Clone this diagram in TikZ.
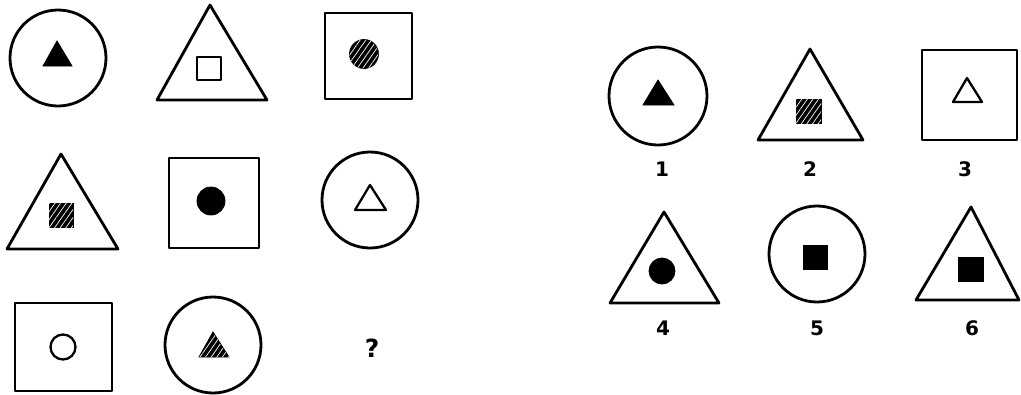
\documentclass[tikz,border=0pt]{standalone}
\usepackage{fontspec}
\setmainfont{DejaVu Sans}
\usetikzlibrary{patterns.meta}
\tikzset{
  outer/.style={draw=black, line width=2.8pt, line join=round},
  inneropen/.style={draw=black, line width=2.3pt, line join=round},
  innerfill/.style={fill=black, draw=black, line width=0.8pt},
  hatched/.style={fill=black, draw=black, line width=0.8pt,
    postaction={pattern={Lines[angle=55, distance=4.6pt, line width=0.7pt]}, pattern color=white}},
  lbl/.style={font=\bfseries\fontsize{20}{20}\selectfont, inner sep=0pt},
  qmark/.style={font=\bfseries\fontsize{25}{25}\selectfont, inner sep=0pt}
}
\begin{document}
\begin{tikzpicture}[x=1pt, y=-1pt]
\useasboundingbox (0,0) rectangle (1021,394);
% ---------- left matrix, row 1
\draw[outer] (58,58) circle (48);
\path[innerfill] (57,41) -- (43,66) -- (72,66) -- cycle;
\draw[outer] (210,5) -- (157,100) -- (267,100) -- cycle;
\draw[inneropen] (197,57) rectangle (221,80);
\draw[outer] (325,13) rectangle (412,99);
\path[hatched] (364,54) circle (14.5);
% ---------- row 2
\draw[outer] (61,154) -- (7,249) -- (118,249) -- cycle;
\path[hatched] (49,203) rectangle (73,227);
\draw[outer] (169,158) rectangle (259,248);
\path[innerfill] (211,201) circle (14);
\draw[outer] (370,200) circle (48);
\draw[inneropen] (370,185) -- (355,210) -- (386,210) -- cycle;
% ---------- row 3
\draw[outer] (15,303) rectangle (112,391);
\draw[inneropen] (63,347) circle (12.5);
\draw[outer] (213,345) circle (48);
\path[hatched] (213,332) -- (199,357) -- (229,357) -- cycle;
\node[qmark] (q) at (372,348) {?};
% ---------- answers, row 1
\draw[outer] (658,96) circle (49);
\path[innerfill] (658,80) -- (643,105) -- (674,105) -- cycle;
\draw[outer] (810,49) -- (758,140) -- (863,140) -- cycle;
\path[hatched] (796,99) rectangle (821,123);
\draw[outer] (922,50) rectangle (1017,140);
\draw[inneropen] (967,78) -- (953,102) -- (982,102) -- cycle;
\node[lbl] (l1) at (662,169) {1};
\node[lbl] (l2) at (810,169) {2};
\node[lbl] (l3) at (965,169) {3};
% ---------- answers, row 2
\draw[outer] (664,212) -- (610,303) -- (719,303) -- cycle;
\path[innerfill] (662,271) circle (13);
\draw[outer] (817,254) circle (48);
\path[innerfill] (803,245) rectangle (827,269);
\draw[outer] (971,207) -- (916,300) -- (1019,300) -- cycle;
\path[innerfill] (958,257) rectangle (983,281);
\node[lbl] (l4) at (663,328) {4};
\node[lbl] (l5) at (817,328) {5};
\node[lbl] (l6) at (972,328) {6};
\end{tikzpicture}
\end{document}
